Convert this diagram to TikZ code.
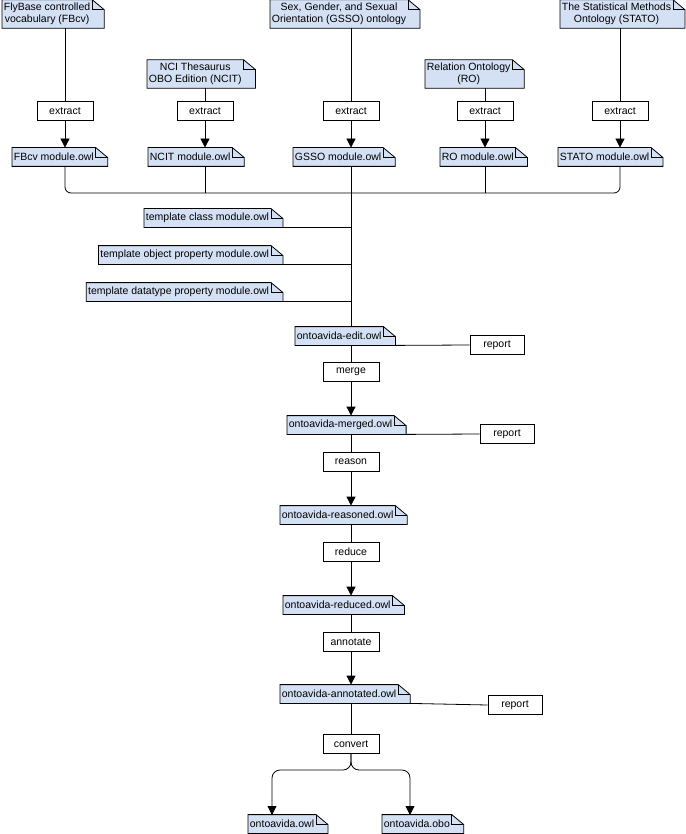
\documentclass[tikz,border=0pt]{standalone}
\usepackage{fontspec}
\setmainfont{Liberation Sans}
\usepackage{tikz}
\usetikzlibrary{positioning}
\usetikzlibrary{arrows.meta}
\usetikzlibrary{backgrounds}
\definecolor{docblue}{HTML}{D4E1F5}
\tikzset{
  every path/.style={line width=0.8pt},
  doc/.style={font=\fontsize{10.5}{12}\selectfont, inner xsep=1.5pt, inner ysep=3pt,
    minimum height=18pt, align=center},
  proc/.style={draw, line width=0.8pt, font=\fontsize{10.5}{12}\selectfont, minimum width=56pt,
    minimum height=19pt, inner sep=2pt, fill=white},
  flow/.style={-{Triangle[width=9pt,length=9pt]}},
}
% outline of a note with a folded corner, drawn behind a named node
\newcommand\foldnote[1]{%
  \draw[fill=docblue] (#1.south west) -- (#1.north west)
    -- (#1.north east) -- ([xshift=12pt,yshift=-10pt]#1.north east)
    -- ([xshift=12pt]#1.south east) -- cycle;
  \draw (#1.north east) |- ([xshift=12pt,yshift=-10pt]#1.north east);
}

\begin{document}
\begin{tikzpicture}[x=1pt, y=-1pt]
  \useasboundingbox (0,0) rectangle (685,834);

  % Sources
  \node[doc, anchor=west] (fbcv) at (2,14) {FlyBase controlled\\vocabulary (FBcv)};
  \node[doc, anchor=west] (ncit) at (147,74) {NCI Thesaurus\\OBO Edition (NCIT)};
  \node[doc, anchor=west] (gsso) at (270,14) {Sex, Gender, and Sexual\\Orientation (GSSO) ontology};
  \node[doc, anchor=west] (ro) at (425,74) {Relation Ontology\\(RO)};
  \node[doc, anchor=west] (stato) at (560,14) {The Statistical Methods\\Ontology (STATO)};

  % Extraction
  \node[proc] (fbcv_ex) at (65,111) {extract};
  \node[proc] (ncit_ex) at (205,111) {extract};
  \node[proc] (gsso_ex) at (351,111) {extract};
  \node[proc] (ro_ex) at (485,111) {extract};
  \node[proc] (stato_ex) at (620,111) {extract};

  \node[doc, anchor=west] (fbcv_mod) at (12,157) {FBcv module.owl};
  \node[doc, anchor=west] (ncit_mod) at (148,157) {NCIT module.owl};
  \node[doc, anchor=west] (gsso_mod) at (293,157) {GSSO module.owl};
  \node[doc, anchor=west] (ro_mod) at (440,157) {RO module.owl};
  \node[doc, anchor=west] (stato_mod) at (558,157) {STATO module.owl};

  % Templates
  \node[doc, anchor=east] (tpl_class) at (271,218) {template class module.owl};
  \node[doc, anchor=east] (tpl_obj) at (271,255) {template object property module.owl};
  \node[doc, anchor=east] (tpl_data) at (271,292) {template datatype property module.owl};

  % Pipeline
  \node[doc, anchor=west] (edit) at (295,336) {ontoavida-edit.owl};
  \node[proc, minimum width=54pt] (report1) at (497,345) {report};
  \node[proc] (merge) at (351,372) {merge};
  \node[doc, anchor=west] (merged) at (287,425) {ontoavida-merged.owl};
  \node[proc, minimum width=54pt] (report2) at (507,434) {report};
  \node[proc] (reason) at (351,462) {reason};
  \node[doc, anchor=west] (reasoned) at (280,515) {ontoavida-reasoned.owl};
  \node[proc] (reduce) at (351,552) {reduce};
  \node[doc, anchor=west] (reduced) at (283,605) {ontoavida-reduced.owl};
  \node[proc] (annotate) at (351,642) {annotate};
  \node[doc, anchor=west] (annotated) at (280,694) {ontoavida-annotated.owl};
  \node[proc, minimum width=54pt] (report3) at (515,705) {report};
  \node[proc] (convert) at (351,744) {convert};
  \node[doc, anchor=west] (out_owl) at (248,824) {ontoavida.owl};
  \node[doc, anchor=west] (out_obo) at (382,824) {ontoavida.obo};
  \coordinate (bus) at (351,193);
  \coordinate (split) at (351,770);
  \coordinate (owl_in) at (272,815);
  \coordinate (obo_in) at (410,815);

  \begin{scope}[on background layer]
    \foreach \n in {fbcv,ncit,gsso,ro,stato,fbcv_mod,ncit_mod,gsso_mod,ro_mod,stato_mod,
      tpl_class,tpl_obj,tpl_data,edit,merged,reasoned,reduced,annotated,out_owl,out_obo}
      {\foldnote{\n}}
  \end{scope}

  % Connect nodes
  \foreach \s in {fbcv,ncit,gsso,ro,stato} {
    \draw (\s_ex |- \s.south) -- (\s_ex.north);
    \draw[flow] (\s_ex.south) -- (\s_ex |- \s_mod.north);
  }
  \draw[rounded corners=6pt] (fbcv_ex |- fbcv_mod.south) |- (bus) -| (stato_ex |- stato_mod.south);
  \draw (ncit_ex |- ncit_mod.south) -- (ncit_ex |- bus);
  \draw (ro_ex |- ro_mod.south) -- (ro_ex |- bus);
  \draw (gsso_ex |- gsso_mod.south) -- (edit.north -| gsso_ex);
  \foreach \t in {tpl_class,tpl_obj,tpl_data}
    \draw ([xshift=12pt]\t.south east) -- (\t.south -| gsso_ex);

  \draw ([xshift=12pt]edit.south east) -- (report1.west);
  \draw ([xshift=12pt]merged.south east) -- (report2.west);
  \draw ([xshift=12pt]annotated.south east) -- (report3.west);

  \draw (edit.south -| merge) -- (merge.north);
  \draw[flow] (merge.south) -- (merged.north -| merge);
  \draw (merged.south -| reason) -- (reason.north);
  \draw[flow] (reason.south) -- (reasoned.north -| reason);
  \draw (reasoned.south -| reduce) -- (reduce.north);
  \draw[flow] (reduce.south) -- (reduced.north -| reduce);
  \draw (reduced.south -| annotate) -- (annotate.north);
  \draw[flow] (annotate.south) -- (annotated.north -| annotate);
  \draw (annotated.south -| convert) -- (convert.north);
  \draw[flow, rounded corners=8pt] (convert.south) -- (split) -| (owl_in);
  \draw[flow, rounded corners=8pt] (convert.south) -- (split) -| (obo_in);

\end{tikzpicture}
\end{document}
